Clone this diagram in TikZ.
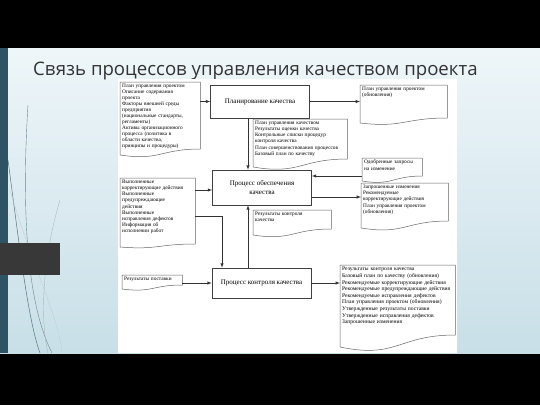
\documentclass[tikz,border=0pt]{standalone}
\usepackage{fontspec}
\setmainfont{Liberation Serif}
\newfontfamily\titlefont{Open Sans}
\usetikzlibrary{arrows,calc}
\definecolor{slidetop}{HTML}{EEF6F9}
\definecolor{slidebot}{HTML}{C8DFE7}
\definecolor{stripteal}{HTML}{2D5365}
\definecolor{titlegray}{HTML}{333333}

\begin{document}
\begin{tikzpicture}[x=1pt,y=-1pt,>=latex,
  main/.style={shape=rectangle,draw=black!75,line width=0.6pt,align=center,minimum width=99pt,font=\fontsize{7}{8.5}\selectfont},
  doc/.style={shape=rectangle,anchor=north west,inner sep=2pt,align=left,text width=#1,font=\fontsize{5.3}{6.1}\selectfont},
  link/.style={->,line width=0.5pt,draw=black!80}]
  \useasboundingbox (0,0) rectangle (540,405);
  % slide
  \fill[black] (0,0) rectangle (540,405);
  \shade[top color=slidetop,bottom color=slidebot] (0,48) rectangle (540,353);
  \draw[stripteal!70,line width=0.4pt] (28,105) .. controls (22,200) and (25,300) .. (52,353);
  \draw[stripteal!80,line width=0.5pt] (8,160) .. controls (20,250) and (28,320) .. (40,353);
  \draw[stripteal!40,line width=0.4pt] (60,200) .. controls (42,260) and (40,320) .. (48,353);
  \draw[stripteal!30,line width=0.3pt] (10,190) .. controls (30,260) and (60,320) .. (62,353);
  \fill[black!78] (0,243) rectangle (60,275);
  \fill[stripteal] (0,48) rectangle (8,243);
  \fill[stripteal] (0,275) rectangle (8,353);
  \node (title) [anchor=base west,inner sep=0pt,text=titlegray,font=\titlefont\fontsize{18.6}{22}\selectfont] at (33,75) {Связь процессов управления качеством проекта};
  \fill[white] (118,79) rectangle (457,353);

  % processes
  \node (plan) [main,minimum height=33pt] at (260,101.5) {Планирование качества};
  \node (assure) [main,minimum height=35pt] at (262,187.5) {Процесс обеспечения\\качества};
  \node (control) [main,minimum height=30pt] at (261.5,283) {Процесс контроля качества};

  % documents
  \node (inputs) [doc=76pt,font=\fontsize{5.3}{5.95}\selectfont] at (120,82) {План управления проектом\\Описание содержания\\проекта\\Факторы внешней среды\\предприятия\\(национальные стандарты,\\регламенты)\\Активы организационного\\процесса (политика в\\области качества,\\принципы и процедуры)};
  \node (planupd) [doc=83pt] at (360,85) {План управления проектом\\(обновления)};
  \node (qplan) [doc=90pt] at (253,119) {План управления качеством\\Результаты оценки качества\\Контрольные списки процедур\\контроля качества\\План совершенствования процессов\\Базовый план по качеству};
  \node (approved) [doc=56pt] at (362,158) {Одобренные запросы\\на изменение};
  \node (requested) [doc=83pt] at (361,183) {Запрошенные изменения\\Рекомендуемые\\корректирующие действия\\План управления проектом\\(обновления)};
  \node (done) [doc=71pt] at (120,178) {Выполненные\\корректирующие действия\\Выполненные\\предупреждающие\\действия\\Выполненные\\исправления дефектов\\Информация об\\исполнении работ};
  \node (qres) [doc=74pt] at (253,210) {Результаты контроля\\качества};
  \node (delivery) [doc=56pt] at (122,275) {Результаты поставки};
  \node (results) [doc=111pt,font=\fontsize{5.6}{6.6}\selectfont] at (340,265) {Результаты контроля качества\\Базовый план по качеству (обновления)\\Рекомендуемые корректирующие действия\\Рекомендуемые предупреждающие действия\\Рекомендуемые исправления дефектов\\План управления проектом (обновления)\\Утвержденные результаты поставки\\Утвержденные исправления дефектов\\Запрошенные изменения};

  \foreach \n/\h/\a in {inputs/73/6,planupd/38/5,qplan/48/8,approved/23/5,requested/45/7,done/69/3,qres/25/6,delivery/14/4,results/82/12}
    \draw[black!60,line width=0.5pt] (\n.north west) -- (\n.north east) -- ([yshift={(\a-\h)*1pt}]\n.north east)
      .. controls ([yshift={(\a-\h)*1pt}]\n.north) and ([yshift={-(\a+\h)*1pt}]\n.north) .. ([yshift={-\h*1pt}]\n.north west) -- cycle;

  \coordinate (bend) at (222,216);

  % connectors
  \draw[link] (inputs.east |- plan.west) -- (plan.west);
  \draw[link] (plan.east) -- (plan.east -| planupd.west);
  \draw[link] ([xshift=-12pt]plan.south) -- ([xshift=-12pt]plan.south |- assure.north);
  \draw[link] ($(assure.east -| approved.west)+(0,-11.5)$) -- ($(assure.east)+(0,-11.5)$);
  \draw[link] ($(assure.east)+(0,9.5)$) -- ($(assure.east -| requested.west)+(0,9.5)$);
  \draw[link] ($(done.east |- assure.west)+(0,2.5)$) -- ($(assure.west)+(0,2.5)$);
  \draw[link] (done.east |- bend) -- (bend) -- (bend |- control.north);
  \draw[link] ([xshift=-13.5pt]control.north) -- ([xshift=-13.5pt]control.north |- assure.south);
  \draw[link] (delivery.east |- control.west) -- (control.west);
  \draw[link] (control.east) -- (control.east -| results.west);
\end{tikzpicture}
\end{document}
